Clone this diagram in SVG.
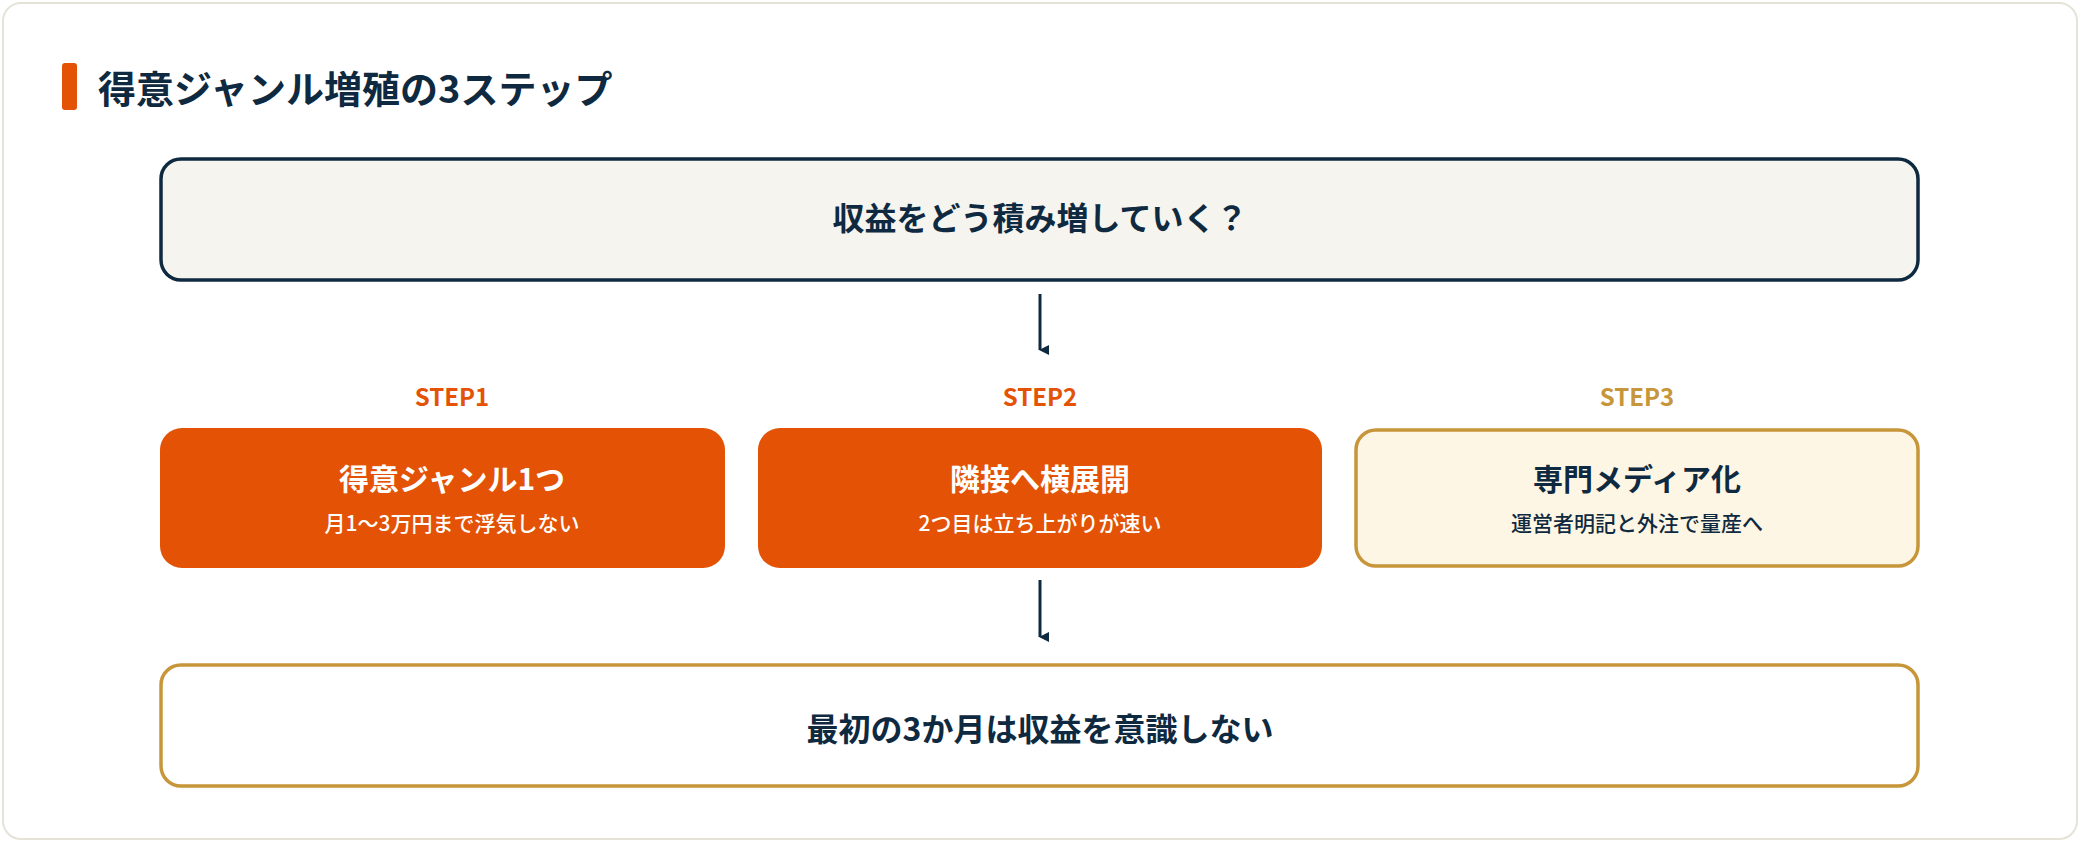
<svg xmlns="http://www.w3.org/2000/svg" width="2080" height="842" viewBox="0 0 2080 842">
<style>
text{font-family:"Noto Sans CJK JP","Noto Sans",sans-serif;font-weight:700;text-anchor:middle}
.dark{fill:#0f2a40}
.step{font-size:24px}
.nt{font-size:30px}
.ns{font-size:21px;font-weight:500}
</style>
<defs>
<marker id="ah" markerWidth="10" markerHeight="10" refX="5" refY="9" orient="auto" markerUnits="userSpaceOnUse" viewBox="0 0 10 10"><path d="M0,0 L10,0 L5,10 Z" fill="#0f2a40"/></marker>
</defs>
<rect x="0" y="0" width="2080" height="842" fill="#ffffff"/>
<rect x="3" y="3" width="2074" height="836" rx="18" fill="#ffffff" stroke="#e5e2d8" stroke-width="2"/>
<g id="title">
<rect x="62" y="63" width="15" height="47" rx="3" fill="#e35205"/>
<text x="98" y="103" class="dark" style="text-anchor:start;font-size:38px">得意ジャンル増殖の3ステップ</text>
</g>
<g id="top">
<rect x="161" y="159" width="1757" height="121" rx="20" fill="#f5f4ef" stroke="#0f2a40" stroke-width="3.5"/>
<text x="1040" y="230" class="dark" style="font-size:32px">収益をどう積み増していく？</text>
</g>
<g id="labels">
<text x="452" y="406" class="step" fill="#e35205">STEP1</text>
<text x="1040" y="406" class="step" fill="#e35205">STEP2</text>
<text x="1637" y="406" class="step" fill="#c8963a">STEP3</text>
</g>
<g id="step1">
<rect x="160" y="428" width="565" height="140" rx="22" fill="#e35205"/>
<text x="452" y="490" class="nt" fill="#ffffff">得意ジャンル1つ</text>
<text x="452" y="531" class="ns" fill="#ffffff">月1〜3万円まで浮気しない</text>
</g>
<g id="step2">
<rect x="758" y="428" width="564" height="140" rx="22" fill="#e35205"/>
<text x="1040" y="490" class="nt" fill="#ffffff">隣接へ横展開</text>
<text x="1040" y="531" class="ns" fill="#ffffff">2つ目は立ち上がりが速い</text>
</g>
<g id="step3">
<rect x="1356" y="430" width="562" height="136" rx="20" fill="#fef6e4" stroke="#c8963a" stroke-width="3.5"/>
<text x="1637" y="490" class="nt dark">専門メディア化</text>
<text x="1637" y="531" class="ns dark">運営者明記と外注で量産へ</text>
</g>
<g id="bottom">
<rect x="161" y="665" width="1757" height="121" rx="20" fill="#ffffff" stroke="#c8963a" stroke-width="3.5"/>
<text x="1040" y="741" class="dark" style="font-size:32px">最初の3か月は収益を意識しない</text>
</g>
<g id="connectors" stroke="#0f2a40" stroke-width="3">
<line x1="1040" y1="294" x2="1040" y2="350" marker-end="url(#ah)"/>
<line x1="1040" y1="580" x2="1040" y2="637" marker-end="url(#ah)"/>
</g>
</svg>
